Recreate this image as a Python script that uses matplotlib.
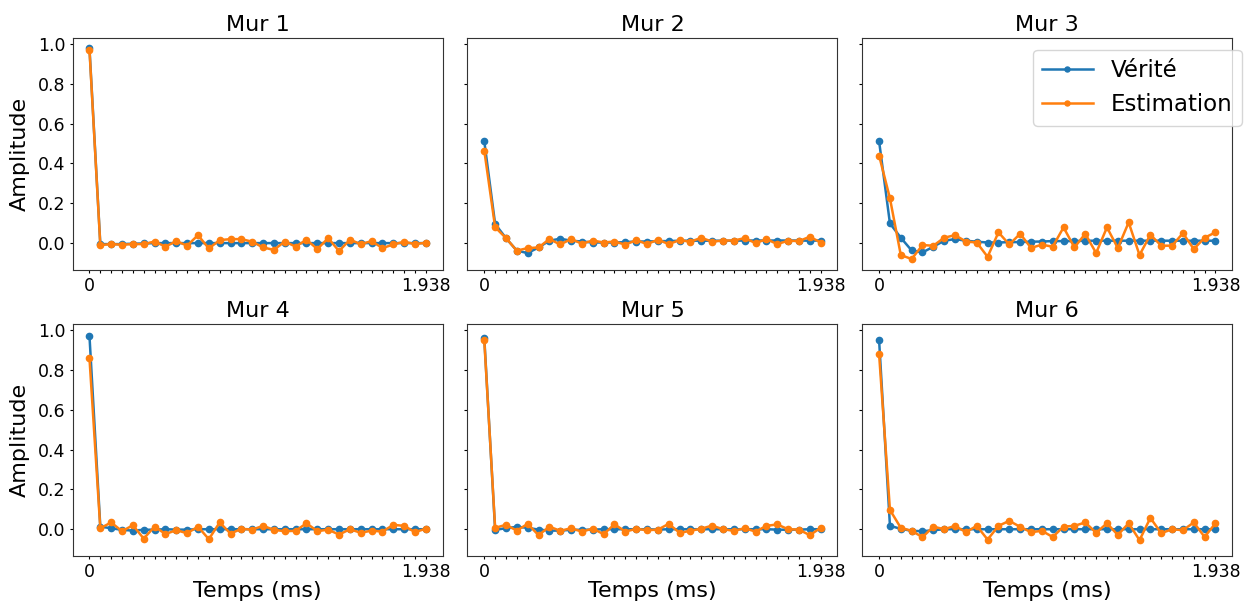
import numpy as np
import matplotlib
matplotlib.use("Agg")
import matplotlib.pyplot as plt

# 32 echantillons a 16 kHz -> 0 .. 1.9375 ms
temps = np.arange(32) * 0.0625

titres = ["Mur 1", "Mur 2", "Mur 3", "Mur 4", "Mur 5", "Mur 6"]

verite_1 = [0.98, -0.005, -0.005, -0.005, -0.003, -0.002, 0.0, 0.0, 0.0, 0.0, 0.0, 0.0,
            0.0, 0.0, 0.0, 0.0, 0.0, 0.0, 0.0, 0.0, 0.0, 0.0, 0.0, 0.0,
            0.0, 0.0, 0.0, 0.0, 0.0, 0.0, 0.0, 0.0]
estim_1 = [0.972, -0.01, -0.005, -0.008, -0.005, -0.005, 0.008, -0.018, 0.01, -0.013, 0.04, -0.027,
           0.015, 0.02, 0.02, 0.007, -0.022, -0.034, 0.008, -0.018, 0.017, -0.03, 0.025, -0.04,
           0.017, -0.005, 0.01, -0.025, -0.007, 0.007, -0.005, 0.002]

verite_2 = [0.512, 0.096, 0.025, -0.038, -0.05, -0.022, 0.012, 0.022, 0.012, 0.008, 0.003, 0.003,
            0.003, 0.005, 0.008, 0.008, 0.01, 0.01, 0.012, 0.012, 0.012, 0.012, 0.012, 0.012,
            0.013, 0.013, 0.013, 0.013, 0.013, 0.013, 0.012, 0.013]
estim_2 = [0.465, 0.08, 0.025, -0.038, -0.025, -0.022, 0.02, -0.007, 0.02, -0.003, 0.013, 0.003,
           0.008, -0.008, 0.015, -0.005, 0.017, -0.005, 0.015, 0.007, 0.027, 0.007, 0.013, 0.013,
           0.025, 0.0, 0.02, -0.005, 0.012, 0.01, 0.032, 0.003]

verite_3 = [0.512, 0.099, 0.027, -0.037, -0.047, -0.018, 0.012, 0.02, 0.012, 0.007, 0.003, 0.003,
            0.005, 0.005, 0.007, 0.008, 0.01, 0.01, 0.01, 0.012, 0.012, 0.012, 0.012, 0.012,
            0.012, 0.012, 0.012, 0.012, 0.012, 0.012, 0.012, 0.012]
estim_3 = [0.44, 0.225, -0.06, -0.08, -0.01, -0.013, 0.027, 0.04, 0.008, 0.003, -0.069, 0.054,
           -0.007, 0.047, -0.024, -0.008, -0.018, 0.079, -0.022, 0.047, -0.05, 0.079, -0.025, 0.104,
           -0.06, 0.042, -0.013, -0.013, 0.05, -0.03, 0.027, 0.054]

verite_4 = [0.972, 0.013, 0.005, -0.003, -0.007, -0.003, -0.002, 0.0, -0.002, -0.002, 0.0, 0.0,
            0.0, 0.0, 0.0, 0.0, 0.0, 0.0, 0.0, 0.0, 0.0, 0.0, 0.0, 0.0,
            0.0, 0.0, 0.0, 0.0, 0.0, 0.0, 0.0, 0.0]
estim_4 = [0.86, 0.005, 0.034, -0.01, 0.02, -0.047, 0.013, -0.024, -0.005, -0.02, 0.013, -0.05,
           0.034, -0.022, 0.002, -0.002, 0.017, -0.003, -0.01, -0.008, 0.03, -0.01, -0.002, -0.027,
           0.0, -0.018, -0.007, -0.012, 0.022, 0.017, -0.015, 0.003]

verite_5 = [0.962, -0.003, 0.005, 0.012, 0.007, -0.002, -0.007, -0.007, -0.003, -0.003, -0.002, 0.0,
            0.0, 0.0, 0.0, 0.0, -0.002, 0.0, 0.0, 0.0, 0.0, 0.0, 0.0, 0.0,
            0.0, 0.0, 0.0, -0.002, -0.003, -0.002, 0.0, 0.0]
estim_5 = [0.95, 0.007, 0.022, -0.007, 0.027, -0.03, 0.013, -0.008, 0.005, -0.012, 0.003, -0.025,
           0.025, -0.012, 0.002, -0.005, -0.002, 0.027, -0.018, -0.008, 0.003, 0.018, 0.0, -0.008,
           0.005, -0.012, 0.017, 0.024, 0.0, -0.002, -0.03, 0.007]

verite_6 = [0.95, 0.017, 0.002, -0.008, -0.01, -0.005, 0.0, 0.0, 0.0, 0.0, 0.0, 0.0,
            0.0, 0.0, 0.0, 0.0, 0.0, 0.0, 0.0, 0.0, 0.0, 0.0, 0.0, 0.0,
            0.0, 0.0, 0.0, 0.0, 0.0, 0.0, 0.0, 0.0]
estim_6 = [0.88, 0.097, 0.007, -0.008, -0.04, 0.013, 0.0, 0.017, -0.015, 0.017, -0.052, 0.017,
           0.042, 0.012, -0.015, -0.008, -0.039, 0.013, 0.017, 0.034, -0.018, 0.03, -0.029, 0.03,
           -0.055, 0.057, -0.02, 0.0, -0.005, 0.034, -0.039, 0.03]

verites = [verite_1, verite_2, verite_3, verite_4, verite_5, verite_6]
estims = [estim_1, estim_2, estim_3, estim_4, estim_5, estim_6]

fig, axes = plt.subplots(2, 3, figsize=(12.46, 6.05), dpi=100, sharey=True)
fig.subplots_adjust(left=0.0583, right=0.989, top=0.938, bottom=0.0815,
                    wspace=0.067, hspace=0.233)

labels_x = ["0"] + [""] * 30 + ["1.938"]

for i, ax in enumerate(axes.flat):
    ax.plot(temps, verites[i], "-o", color="tab:blue", lw=1.8, ms=4.5, label="Vérité")
    ax.plot(temps, estims[i], "-o", color="tab:orange", lw=1.8, ms=4.5, label="Estimation")
    ax.set_title(titres[i], fontsize=16, pad=5)
    ax.set_xticks(temps)
    ax.set_xticklabels(labels_x)
    ax.tick_params(labelsize=12.5, length=2.5, pad=2.5)
    for sp in ax.spines.values():
        sp.set_color("#333333")
    if i % 3 == 0:
        ax.set_ylabel("Amplitude", fontsize=16, labelpad=6)
    if i >= 3:
        ax.set_xlabel("Temps (ms)", fontsize=16, labelpad=0)

axes[0, 2].legend(loc="upper right", bbox_to_anchor=(1.026, 0.947), borderaxespad=0,
                  fontsize=16.5, markerscale=0.8, labelspacing=0.5, handlelength=2.2)

fig.savefig("out.png", dpi=100)
